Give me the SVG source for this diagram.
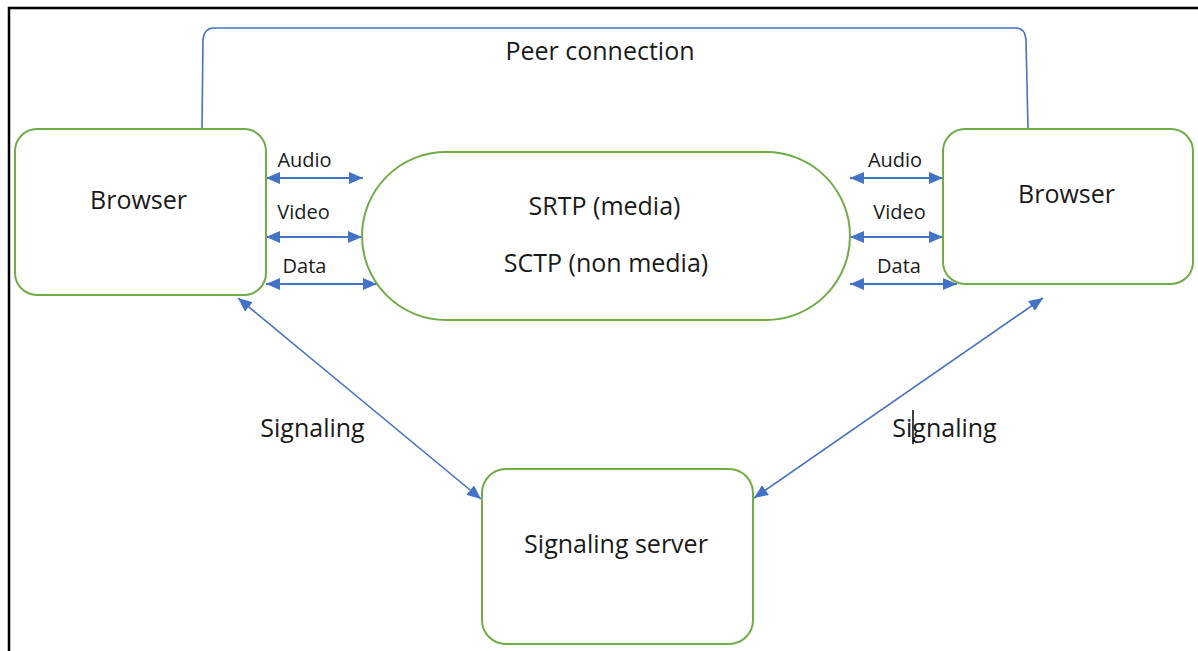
<svg xmlns="http://www.w3.org/2000/svg" width="1198" height="651" viewBox="0 0 1198 651">
  <style>
    .node { fill: #ffffff; stroke: #70AD47; stroke-width: 2; }
    .big { font-family: "Open Sans", "Liberation Sans", sans-serif; font-size: 25px; fill: #1a1a1a; text-anchor: middle; }
    .small { font-family: "Open Sans", "Liberation Sans", sans-serif; font-size: 20px; fill: #1a1a1a; text-anchor: middle; }
    .flow { stroke: #4472C4; stroke-width: 2; fill: none; marker-start: url(#head); marker-end: url(#head); }
    .sig { stroke: #4472C4; stroke-width: 1.6; fill: none; marker-start: url(#headS); marker-end: url(#headS); }
  </style>
  <defs>
    <marker id="head" viewBox="0 0 14 12" refX="14" refY="6" markerWidth="14" markerHeight="12" markerUnits="userSpaceOnUse" orient="auto-start-reverse">
      <path d="M0,0 L14,6 L0,12 Z" fill="#4472C4"/>
    </marker>
    <marker id="headS" viewBox="0 0 14 12" refX="14" refY="6" markerWidth="14" markerHeight="12" markerUnits="userSpaceOnUse" orient="auto-start-reverse">
      <path d="M0,0 L14,6 L0,12 Z" fill="#4472C4"/>
    </marker>
  </defs>
  <rect x="0" y="0" width="1198" height="651" fill="#ffffff"/>
  <path d="M9,651 L9,8 L1198,8" fill="none" stroke="#000000" stroke-width="2.5"/>

  <g id="connectors">
    <path id="peer-connection" d="M202,129 L203,40 Q204,28 214,28 L1016,28 Q1025,28 1026,40 L1028,129" fill="none" stroke="#4472C4" stroke-width="1.6"/>
    <line class="flow" x1="266" y1="178" x2="363" y2="178"/>
    <line class="flow" x1="266" y1="237" x2="362" y2="237"/>
    <line class="flow" x1="266" y1="284" x2="377" y2="284"/>
    <line class="flow" x1="850" y1="178" x2="943" y2="178"/>
    <line class="flow" x1="850" y1="237" x2="943" y2="237"/>
    <line class="flow" x1="850" y1="284" x2="957" y2="284"/>
    <line class="sig" x1="238" y1="298" x2="481" y2="499"/>
    <line class="sig" x1="1043" y1="298" x2="754" y2="498"/>
  </g>

  <g id="labels">
    <text class="big" x="600" y="60">Peer connection</text>
    <text class="small" x="304.5" y="167">Audio</text>
    <text class="small" x="303.5" y="219">Video</text>
    <text class="small" x="304.5" y="273">Data</text>
    <text class="small" x="895" y="167">Audio</text>
    <text class="small" x="899.5" y="219">Video</text>
    <text class="small" x="899" y="273">Data</text>
    <text class="big" x="312.5" y="437">Signaling</text>
    <text class="big" x="944.5" y="437">Signaling</text>
    <line x1="913" y1="410" x2="913" y2="444" stroke="#000000" stroke-width="1.5"/>
  </g>

  <g id="browser-left">
    <rect class="node" x="15" y="129" width="251" height="166" rx="22" ry="22"/>
    <text class="big" x="138.5" y="209">Browser</text>
  </g>

  <g id="transport">
    <rect class="node" x="362" y="152" width="488" height="168" rx="84" ry="84"/>
    <text class="big" x="604.5" y="215">SRTP (media)</text>
    <text class="big" x="606" y="272">SCTP (non media)</text>
  </g>

  <g id="browser-right">
    <rect class="node" x="943" y="129" width="250" height="155" rx="22" ry="22"/>
    <text class="big" x="1066.5" y="203">Browser</text>
  </g>

  <g id="signaling-server">
    <rect class="node" x="482" y="469" width="271" height="175" rx="24" ry="24"/>
    <text class="big" x="616" y="553">Signaling server</text>
  </g>
</svg>
